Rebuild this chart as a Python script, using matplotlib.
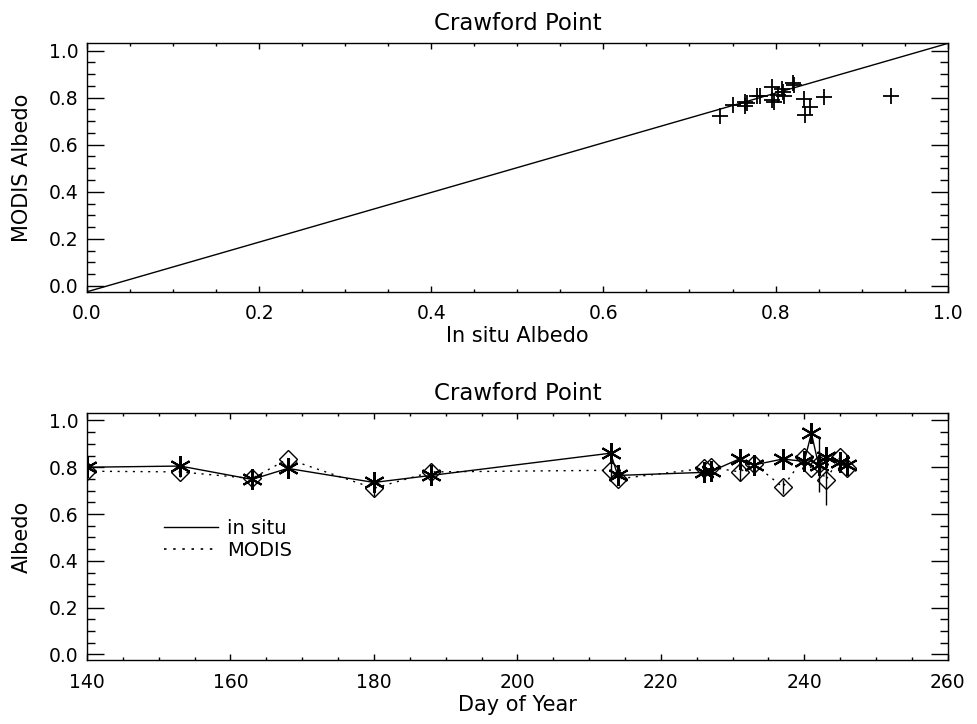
import matplotlib
matplotlib.use("Agg")
import matplotlib.pyplot as plt
from matplotlib.ticker import MultipleLocator

plt.rcParams["font.family"] = ["DejaVu Sans"]

# scatter: in situ vs MODIS albedo
insitu_albedo = [0.735, 0.750, 0.764, 0.765, 0.767, 0.779, 0.782, 0.796, 0.796, 0.798,
                 0.803, 0.807, 0.809, 0.810, 0.820, 0.821, 0.833, 0.840, 0.834, 0.856, 0.934]
modis_albedo = [0.723, 0.768, 0.782, 0.765, 0.777, 0.808, 0.805, 0.843, 0.791, 0.782,
                0.810, 0.836, 0.822, 0.808, 0.861, 0.853, 0.793, 0.762, 0.727, 0.801, 0.805]
ref_line_x = [0.0, 1.0]
ref_line_y = [-0.025, 1.03]

# time series
day = [140, 153, 163, 168, 180, 188, 213, 214, 226, 227, 231, 233, 237, 240, 241, 242, 243, 245, 246]
insitu_series = [0.800, 0.805, 0.748, 0.795, 0.735, 0.765, 0.860, 0.765, 0.778, 0.782,
                 0.836, 0.810, 0.835, 0.825, 0.945, 0.810, 0.843, 0.822, 0.810]
modis_series = [0.783, 0.780, 0.752, 0.835, 0.710, 0.780, 0.787, 0.750, 0.795, 0.800,
                0.780, 0.815, 0.715, 0.843, 0.795, 0.815, 0.745, 0.843, 0.795]
modis_err = [0.0, 0.02, 0.0, 0.0, 0.035, 0.0, 0.03, 0.0, 0.0, 0.0,
             0.04, 0.0, 0.03, 0.0, 0.0, 0.12, 0.105, 0.0, 0.0]

TITLE = "Crawford Point"
asterisk = (6, 2, 0)
dotted = (0, (1.5, 4))


def style_axes(ax, xmaj, xmin):
    ax.xaxis.set_major_locator(MultipleLocator(xmaj))
    ax.xaxis.set_minor_locator(MultipleLocator(xmin))
    ax.yaxis.set_major_locator(MultipleLocator(0.2))
    ax.yaxis.set_minor_locator(MultipleLocator(0.05))
    ax.tick_params(axis="both", which="both", direction="in", top=True, right=True,
                   labelsize=13.5, width=1.0)
    ax.tick_params(axis="x", which="major", length=4, pad=9)
    ax.tick_params(axis="x", which="minor", length=2)
    ax.tick_params(axis="y", which="major", length=12, pad=6)
    ax.tick_params(axis="y", which="minor", length=6)
    ax.set_ylim(-0.025, 1.03)
    for sp in ax.spines.values():
        sp.set_linewidth(1.0)
    ax.set_title(TITLE, fontsize=16.5, pad=10)
    ax.yaxis.set_major_formatter(lambda v, p: f"{v:.1f}")


fig = plt.figure(figsize=(9.78, 7.24), dpi=100)
ax1 = fig.add_axes([0.089, 0.597, 0.880, 0.343])
ax2 = fig.add_axes([0.089, 0.088, 0.880, 0.341])

# top panel
ax1.plot(ref_line_x, ref_line_y, color="black", lw=1.0)
ax1.plot(insitu_albedo, modis_albedo, linestyle="none", marker="+", color="black",
         markersize=11.5, markeredgewidth=1.3)
ax1.set_xlim(0, 1.0)
style_axes(ax1, 0.2, 0.05)
ax1.xaxis.set_major_formatter(lambda v, p: f"{v:.1f}")
ax1.set_xlabel("In situ Albedo", fontsize=15, labelpad=2)
ax1.set_ylabel("MODIS Albedo", fontsize=15, labelpad=12)

# bottom panel
ax2.errorbar(day, modis_series, yerr=modis_err, fmt="none", ecolor="black", elinewidth=1.0)
ax2.plot(day, insitu_series, color="black", lw=1.0, marker=asterisk, markersize=15,
         markeredgewidth=1.5)
ax2.plot(day, modis_series, color="black", lw=1.0, linestyle=dotted, marker="D",
         markersize=9.5, markerfacecolor="none", markeredgewidth=1.0)
leg_handles = [
    plt.Line2D([], [], color="black", lw=1.0),
    plt.Line2D([], [], color="black", lw=1.2, linestyle=dotted),
]
ax2.legend(leg_handles, ["in situ", "MODIS"], frameon=False, loc=(0.08, 0.375),
           handlelength=2.8, fontsize=14, labelspacing=0.15, handletextpad=0.45)
ax2.set_xlim(140, 260)
style_axes(ax2, 20, 5)
ax2.set_xlabel("Day of Year", fontsize=15, labelpad=2)
ax2.set_ylabel("Albedo", fontsize=15, labelpad=12)

fig.savefig("out.png", dpi=100)
plt.close(fig)
